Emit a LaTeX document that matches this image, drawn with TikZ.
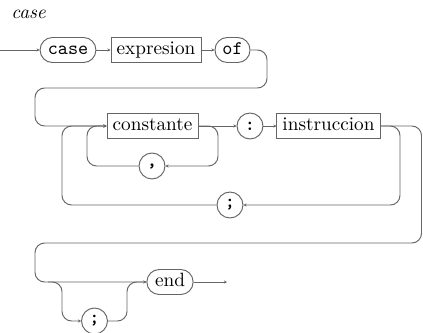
\documentclass[tikz,border=0pt]{standalone}
\usetikzlibrary{arrows.meta}
\begin{document}
\begin{tikzpicture}[x=0.52pt,y=-0.52pt,
  rail/.style={draw=black!60, line width=0.5pt, rounded corners=5pt},
  tip/.style={-{Stealth[length=1.6pt,width=1.6pt]}},
  nonterm/.style={draw=black!60, line width=0.5pt, rectangle, minimum height=13pt,
    inner xsep=1pt, inner ysep=0pt, text height=6.9pt, text depth=1.9pt},
  term/.style={nonterm, rounded corners=6.4pt},
  tok/.style={draw=black!60, line width=0.5pt, circle, minimum size=13.5pt,
    inner sep=0pt, font=\ttfamily\bfseries}]
\useasboundingbox (0,0) rectangle (423,332);

% title
\node[anchor=west, font=\itshape, inner sep=0pt] (title) at (11,14) {case};

% first row
\coordinate (start) at (0,50);
\node[term, minimum width=29pt, font=\ttfamily] (kcase) at (68,50) {case};
\node[nonterm, minimum width=46.8pt] (expr) at (156,50) {expresion};
\node[term, minimum width=18.2pt, font=\ttfamily] (kof) at (232.5,50) {of};

% second row
\node[nonterm, minimum width=47.3pt] (cons) at (152.5,126) {constante};
\node[tok] (colon) at (250,126) {:};
\node[nonterm, minimum width=53.6pt] (inst) at (328.5,126) {instruccion};
\node[tok] (comma) at (152,166) {,};
\node[tok] (semi) at (230,205) {;};

% third row
\node[term, minimum width=24pt] (kend) at (170,282) {end};
\node[tok] (optsemi) at (94.5,321) {;};
\coordinate (split) at (48,282);
\coordinate (exit) at (227,282);

% connectors, first row
\draw[rail,tip] (start) -- (kcase);
\draw[rail,tip] (kcase) -- (expr);
\draw[rail,tip] (expr) -- (kof);
\draw[rail,tip] (kof.east) -| (267,88) -| (35,126) -- (cons.west);

% connectors, second row
\draw[rail,tip] (cons.east) -- (colon.west);
\draw[rail,tip] (colon.east) -- (inst.west);
\draw[rail,tip] (cons.east) -| (218,166) -- (comma.east);
\draw[rail,tip] (comma.west) -| (87,126) -- (cons.west);
\draw[rail,tip] (inst.east) -| (400,205) -- (semi.east);
\draw[rail,tip] (semi.west) -| (62,126) -- (cons.west);
\draw[rail,tip] (inst.east) -| (421.5,243) -| (35,282) -- (kend.west);

% connectors, third row
\draw[rail,tip] (split) -| (62,321) -- (optsemi.west);
\draw[rail,tip] (optsemi.east) -| (127,282) -- (kend.west);
\draw[rail,tip] (kend.east) -- (exit);
\end{tikzpicture}
\end{document}
